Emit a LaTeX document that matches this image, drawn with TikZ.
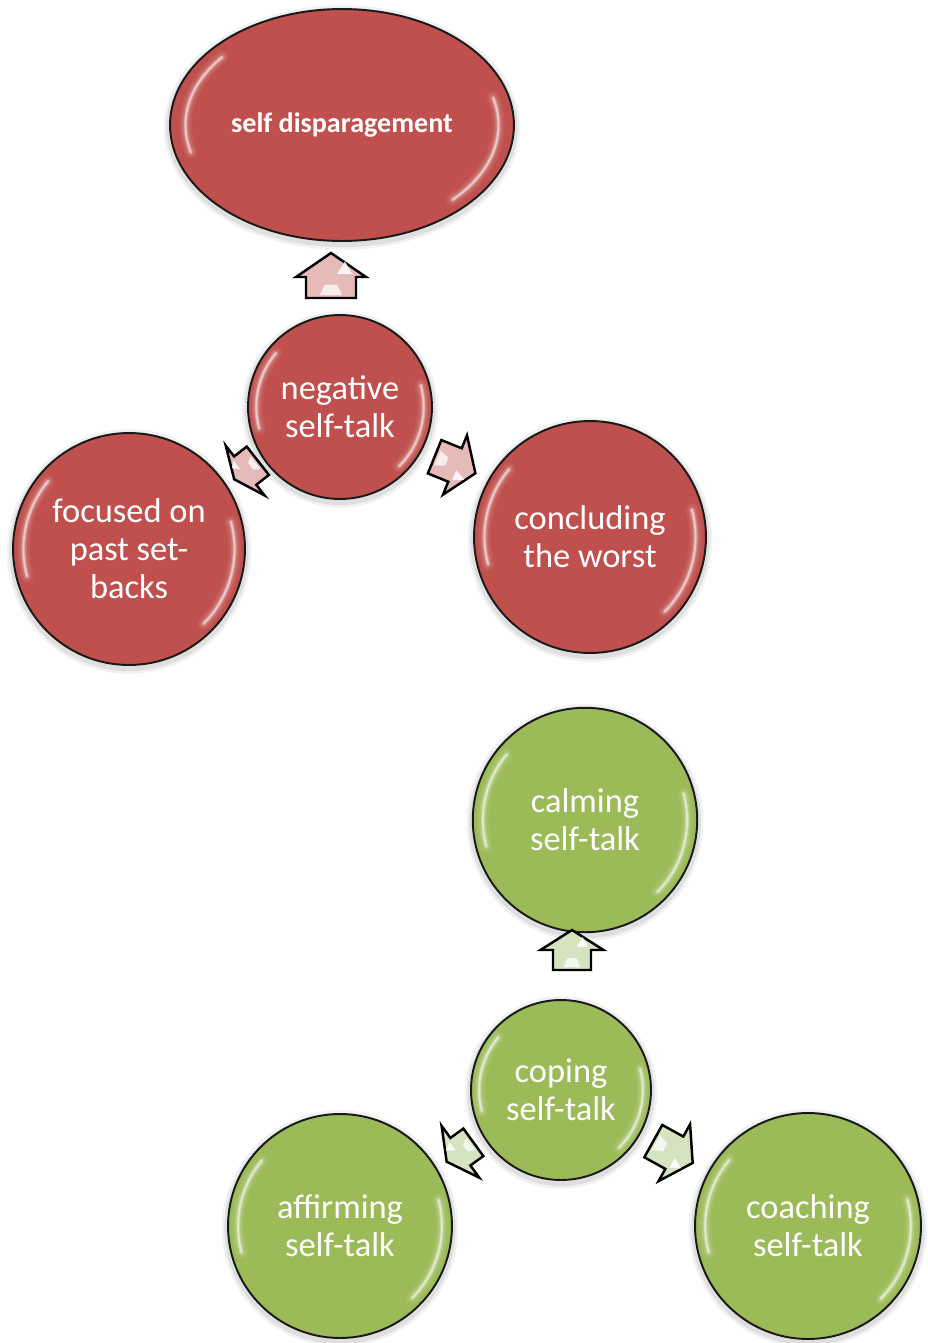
\documentclass[tikz,border=0pt]{standalone}
\usepackage{fontspec}
\setmainfont{Carlito}
\usetikzlibrary{shapes.geometric,calc,backgrounds}

\definecolor{redfill}{HTML}{C0504D}
\definecolor{greenfill}{HTML}{9BBB59}
\definecolor{redtint}{HTML}{E6BAB9}
\definecolor{greentint}{HTML}{D6E3C0}

\tikzset{
  bubble/.style={circle, draw=black!90, line width=1.1pt, text=white, align=center,
    inner sep=0pt, font=\fontsize{19.6}{21.6}\selectfont},
  redbubble/.style={bubble, fill=redfill},
  greenbubble/.style={bubble, fill=greenfill},
  blockarrow/.style={draw=black, line width=1.4pt, line join=miter},
  glintline/.style={white, line cap=round},
}

% block arrow pointing along +x before rotation:
% #1 centre, #2 angle, #3 length, #4 head length, #5 head width, #6 shaft width, #7 fill
\newcommand\blockarrow[7]{%
  \begin{scope}[shift={(#1)}, x=0.02cm, y=0.02cm, rotate=#2]
    \draw[blockarrow, fill=#7]
      ({-#3/2},{-#6/2}) -- ({#3/2-#4},{-#6/2}) -- ({#3/2-#4},{-#5/2}) --
      ({#3/2},0) -- ({#3/2-#4},{#5/2}) -- ({#3/2-#4},{#6/2}) --
      ({-#3/2},{#6/2}) -- cycle;
    \fill[white, opacity=0.85]
      ({#3/2-#4+3},{-#6*0.12}) -- ({#3/2-#4*0.35},{-#6*0.28}) -- ({#3/2-#4+3},{-#6*0.42}) -- cycle;
    \fill[white, opacity=0.75]
      ({-#3/2+3},{-#6*0.22}) -- ({-#3/2+#3*0.3},{-#6*0.12}) -- ({-#3/2+#3*0.3},{#6*0.12}) -- ({-#3/2+3},{#6*0.22}) -- cycle;
  \end{scope}}

% soft rim highlight and shadow of a round shape: #1 node, #2 x radius (cm), #3 y radius (cm)
\newcommand\shine[3]{%
  \begin{scope}[on background layer, shift={(#1.center)}, x=1cm, y=1cm]
    \foreach \lw/\op in {6pt/0.05, 3pt/0.08}{
      \draw[black, line width=\lw, opacity=\op] (0,-0.05) ellipse [x radius=#2+0.02, y radius=#3+0.02];
    }
  \end{scope}
  \begin{scope}[shift={(#1.center)}, x=1cm, y=1cm]
    \foreach \lw/\op in {7pt/0.07, 4pt/0.14, 2pt/0.3, 1pt/0.45}{
      \draw[glintline, line width=\lw, opacity=\op]
        ({0.91*#2*cos(-45)},{0.91*#3*sin(-45)}) arc[start angle=-45, end angle=15, x radius=0.91*#2, y radius=0.91*#3];
      \draw[glintline, line width=\lw, opacity=\op]
        ({0.91*#2*cos(140)},{0.91*#3*sin(140)}) arc[start angle=140, end angle=195, x radius=0.91*#2, y radius=0.91*#3];
    }
  \end{scope}}

\begin{document}
\begin{tikzpicture}[x=0.02cm, y=-0.02cm]
  \useasboundingbox (0,0) rectangle (927,1343);

  % negative self-talk cluster
  \node[ellipse, draw=black!90, line width=1.1pt, fill=redfill, text=white, inner sep=0pt,
        minimum width=6.88cm, minimum height=4.64cm,
        font=\bfseries\fontsize{16}{19}\selectfont] (sd) at (342,125) {self disparagement};
  \node[redbubble, minimum size=3.68cm] (neg) at (340,407) {negative\\self-talk};
  \node[redbubble, minimum size=4.64cm] (foc) at (129,549) {focused on\\past set-\\backs};
  \node[redbubble, minimum size=4.64cm] (con) at (590,537) {concluding\\the worst};

  \shine{sd}{3.44}{2.32}
  \shine{neg}{1.84}{1.84}
  \shine{foc}{2.32}{2.32}
  \shine{con}{2.32}{2.32}

  \blockarrow{331,275.5}{90}{45}{24}{70}{50}{redtint}
  \blockarrow{455,465}{-22}{44}{22}{64}{36}{redtint}
  \blockarrow{246,470}{218}{30}{14}{63}{36}{redtint}

  % coping self-talk cluster
  \node[greenbubble, minimum size=4.49cm] (calm) at (585,820) {calming\\self-talk};
  \node[greenbubble, minimum size=3.6cm] (cop) at (561,1090) {coping\\self-talk};
  \node[greenbubble, minimum size=4.48cm] (aff) at (340,1226) {affirming\\self-talk};
  \node[greenbubble, minimum size=4.52cm] (coach) at (808,1226) {coaching\\self-talk};

  \shine{calm}{2.245}{2.245}
  \shine{cop}{1.8}{1.8}
  \shine{aff}{2.24}{2.24}
  \shine{coach}{2.26}{2.26}

  \blockarrow{572,950}{90}{40}{20}{63}{38}{greentint}
  \blockarrow{673,1152}{-29}{45}{21}{65}{37}{greentint}
  \blockarrow{460,1152}{216}{33}{17}{64}{34}{greentint}
\end{tikzpicture}
\end{document}
